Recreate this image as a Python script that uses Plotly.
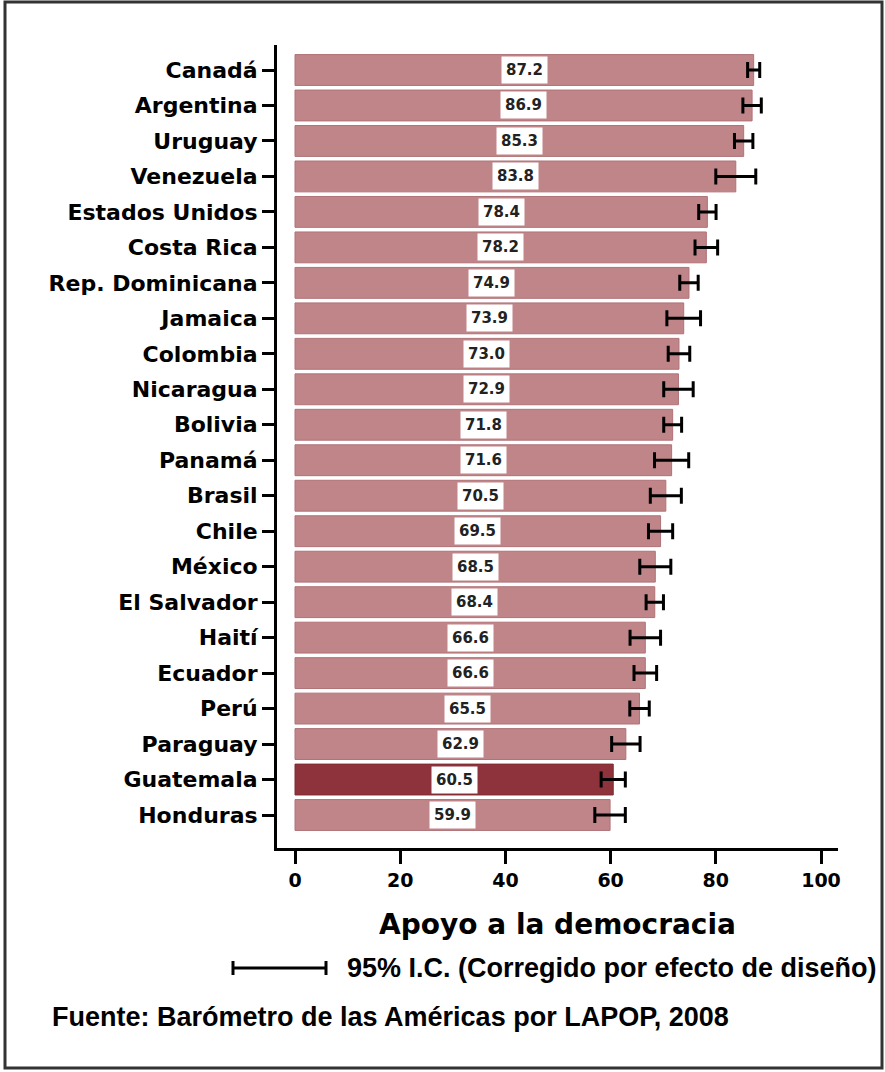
import plotly.graph_objects as go

countries = ["Canadá", "Argentina", "Uruguay", "Venezuela", "Estados Unidos", "Costa Rica",
             "Rep. Dominicana", "Jamaica", "Colombia", "Nicaragua", "Bolivia", "Panamá",
             "Brasil", "Chile", "México", "El Salvador", "Haití", "Ecuador", "Perú",
             "Paraguay", "Guatemala", "Honduras"]
values = [87.2, 86.9, 85.3, 83.8, 78.4, 78.2, 74.9, 73.9, 73.0, 72.9, 71.8, 71.6,
          70.5, 69.5, 68.5, 68.4, 66.6, 66.6, 65.5, 62.9, 60.5, 59.9]
ci_half = [1.15, 1.75, 1.75, 3.8, 1.65, 2.15, 1.75, 3.2, 2.05, 2.8, 1.7, 3.25,
           2.95, 2.3, 2.95, 1.65, 2.9, 2.15, 1.85, 2.7, 2.3, 2.9]
highlight = "Guatemala"
x_ticks = [0, 20, 40, 60, 80, 100]

W, H = 885, 1072
# plot area in reference pixel coordinates
PL, PR, PT, PB = 277, 838, 45, 848
ML, MT, MR, MB = PL, PT, W - PR, H - PB
PW, PH = PR - PL, PB - PT

def px(x):
    return (x - PL) / PW

def py(y):
    return (PB - y) / PH

bar_col = "#c08588"
bar_line = "#b07277"
hi_col = "#8e333b"
hi_line = "#7e2a33"
colors = [hi_col if c == highlight else bar_col for c in countries]
lines = [hi_line if c == highlight else bar_line for c in countries]

fig = go.Figure()
fig.add_trace(go.Bar(
    x=values, y=countries, orientation="h",
    marker=dict(color=colors, line=dict(color=lines, width=1)),
    error_x=dict(type="data", array=ci_half, visible=True, color="black",
                 thickness=3, width=8),
    hoverinfo="x+y",
))

for c, v in zip(countries, values):
    fig.add_annotation(x=v / 2, y=c, xref="x", yref="y", text=f"<b>{v:.1f}</b>",
                       showarrow=False, bgcolor="white", borderpad=4,
                       font=dict(family="DejaVu Sans", size=15, color="#222"))

unit = 5.26  # px per unit
x0px = 295
xmin = (PL - x0px) / unit
xmax = (PR - x0px) / unit

fig.update_layout(
    width=W, height=H,
    margin=dict(l=ML, r=MR, t=MT, b=MB),
    paper_bgcolor="white", plot_bgcolor="white",
    showlegend=False,
    bargap=0.13,
    xaxis=dict(range=[xmin, xmax], tickvals=x_ticks, ticktext=[str(t) for t in x_ticks],
               showline=True, linecolor="black", linewidth=3,
               ticks="outside", ticklen=13, tickwidth=3, tickcolor="black",
               showgrid=False, zeroline=False,
               tickfont=dict(family="DejaVu Sans", size=19, color="black", weight="bold"),
               title=dict(text="<b>Apoyo a la democracia</b>", standoff=25,
                          font=dict(family="DejaVu Sans", size=28, color="black"))),
    yaxis=dict(categoryorder="array", categoryarray=countries,
               range=[21 + 0.93, -0.705],
               showline=True, linecolor="black", linewidth=3,
               ticks="outside", ticklen=12, tickwidth=3, tickcolor="black",
               showgrid=False, zeroline=False,
               tickfont=dict(family="DejaVu Sans", size=22, color="black", weight="bold")),
)

# legend glyph for CI
ly = 968
fig.add_shape(type="line", xref="paper", yref="paper", x0=px(233), x1=px(326),
              y0=py(ly), y1=py(ly), line=dict(color="black", width=3))
for xx in (233, 326):
    fig.add_shape(type="line", xref="paper", yref="paper", x0=px(xx), x1=px(xx),
                  y0=py(ly - 7), y1=py(ly + 7), line=dict(color="black", width=3))
fig.add_annotation(xref="paper", yref="paper", x=px(345), y=py(ly), xanchor="left",
                   yanchor="middle", showarrow=False,
                   text="<b>95% I.C. (Corregido por efecto de diseño)</b>",
                   font=dict(family="Liberation Sans", size=27, color="black"))
fig.add_annotation(xref="paper", yref="paper", x=px(50), y=py(1017), xanchor="left",
                   yanchor="middle", showarrow=False,
                   text="<b>Fuente: Barómetro de las Américas por LAPOP, 2008</b>",
                   font=dict(family="Liberation Sans", size=27, color="black"))

# outer frame
fig.add_shape(type="rect", xref="paper", yref="paper", x0=px(5), x1=px(882),
              y0=py(1068), y1=py(2), line=dict(color="#333", width=3))

fig.write_html("out.html", config={"displayModeBar": False},
               post_script="document.body.style.margin='0';document.body.style.overflow='hidden';")
